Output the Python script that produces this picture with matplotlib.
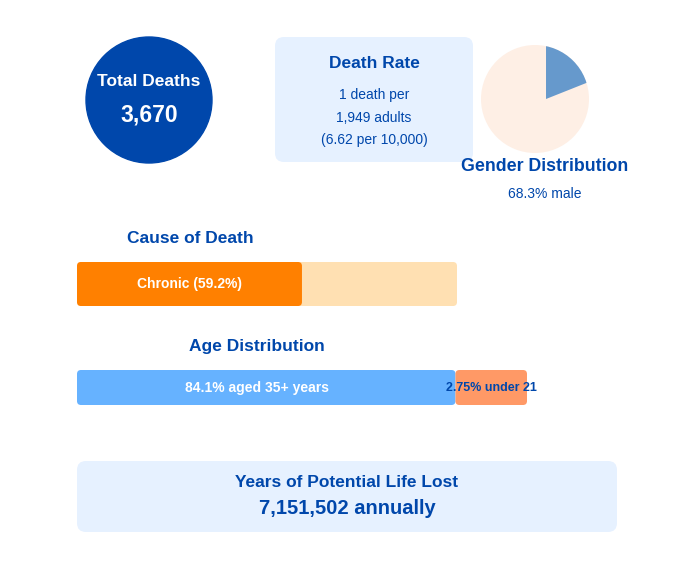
import matplotlib
matplotlib.use("Agg")
import matplotlib.pyplot as plt
from matplotlib.patches import Circle, FancyBboxPatch, Wedge

plt.rcParams['font.family'] = ['Liberation Sans', 'DejaVu Sans']

# ---- data ----
total_deaths = "3,670"
death_rate_lines = ["1 death per", "1,949 adults", "(6.62 per 10,000)"]
male_angle = 68.3                         # male wedge drawn as 68.3 degrees
gender_label = "68.3% male"
cause_share = [59.2, 100.0]               # chronic share, full bar
cause_label = "Chronic (59.2%)"
age_shares = [84.1, 15.9]                 # aged 35+, remainder
age_labels = ["84.1% aged 35+ years", "2.75% under 21"]
ypll_text = "7,151,502 annually"

W, H = 697, 569
DARK = "#0047AB"
fig = plt.figure(figsize=(W / 100, H / 100), dpi=100)
ax = fig.add_axes([0, 0, 1, 1])
ax.set_xlim(0, W)
ax.set_ylim(H, 0)
ax.axis("off")

def rbox(x, y, w, h, color, r=7):
    ax.add_patch(FancyBboxPatch((x, y), w, h, boxstyle=f"round,pad=0,rounding_size={r}",
                                fc=color, ec="none"))

# Total deaths circle
ax.add_patch(Circle((149, 100), 63, color=DARK))
ax.text(149, 81, "Total Deaths", color="white", fontsize=12.5, fontweight="bold",
        ha="center", va="center")
ax.text(149, 115, total_deaths, color="white", fontsize=16.5, fontweight="bold",
        ha="center", va="center")

# Death rate box
rbox(275, 37, 198, 125, "#E6F1FF", r=9)
ax.text(374, 63, "Death Rate", color=DARK, fontsize=12.5, fontweight="bold",
        ha="center", va="center")
for yy, t in zip([95, 118, 140], death_rate_lines):
    ax.text(374, yy, t, color=DARK, fontsize=10, ha="center", va="center")

# Gender pie
pax = fig.add_axes([481 / W, 1 - 153 / H, 108 / W, 108 / H])
pax.set_xlim(-1, 1)
pax.set_ylim(-1, 1)
pax.set_aspect("equal")
pax.axis("off")
disc = Circle((0, 0), 1, fc="#FEEFE5", ec="none")
pax.add_patch(disc)
male = Wedge((0.204, 0), 1.4, 90 - male_angle, 90, fc="#6699CC", ec="none")
pax.add_patch(male)
male.set_clip_path(disc)
ax.text(545, 166, "Gender Distribution", color=DARK, fontsize=12.8, fontweight="bold",
        ha="center", va="center")
ax.text(545, 194, gender_label, color=DARK, fontsize=10, ha="center", va="center")

# Cause of death bar (380 px = 100%)
cx0, cw = 77, 380
ax.text(190, 238, "Cause of Death", color=DARK, fontsize=12.5, fontweight="bold",
        ha="center", va="center")
rbox(cx0, 262, cw * cause_share[1] / 100, 44, "#FFE0B2", r=4)
rbox(cx0, 262, cw * cause_share[0] / 100, 44, "#FF8000", r=4)
ax.text(cx0 + cw * cause_share[0] / 200, 284, cause_label, color="white", fontsize=10,
        fontweight="bold", ha="center", va="center")

# Age distribution bar (450 px = 100%)
ax0, aw = 77, 450
ax.text(257, 346, "Age Distribution", color=DARK, fontsize=12.5, fontweight="bold",
        ha="center", va="center")
w1 = aw * age_shares[0] / 100
w2 = aw * age_shares[1] / 100
rbox(ax0, 370, w1, 35, "#66B2FF", r=4)
rbox(ax0 + w1, 370, w2, 35, "#FF9966", r=4)
ax.text(257, 388, age_labels[0], color="white", fontsize=10, fontweight="bold",
        ha="center", va="center")
ax.text(ax0 + w1 + w2 / 2, 388, age_labels[1], color=DARK, fontsize=9, fontweight="bold",
        ha="center", va="center")

# YPLL box
rbox(77, 461, 540, 71, "#E6F1FF", r=9)
ax.text(347, 482, "Years of Potential Life Lost", color=DARK, fontsize=12.5,
        fontweight="bold", ha="center", va="center")
ax.text(347, 508, ypll_text, color=DARK, fontsize=14.5, fontweight="bold",
        ha="center", va="center")

fig.savefig("out.png", dpi=100, facecolor="white")
